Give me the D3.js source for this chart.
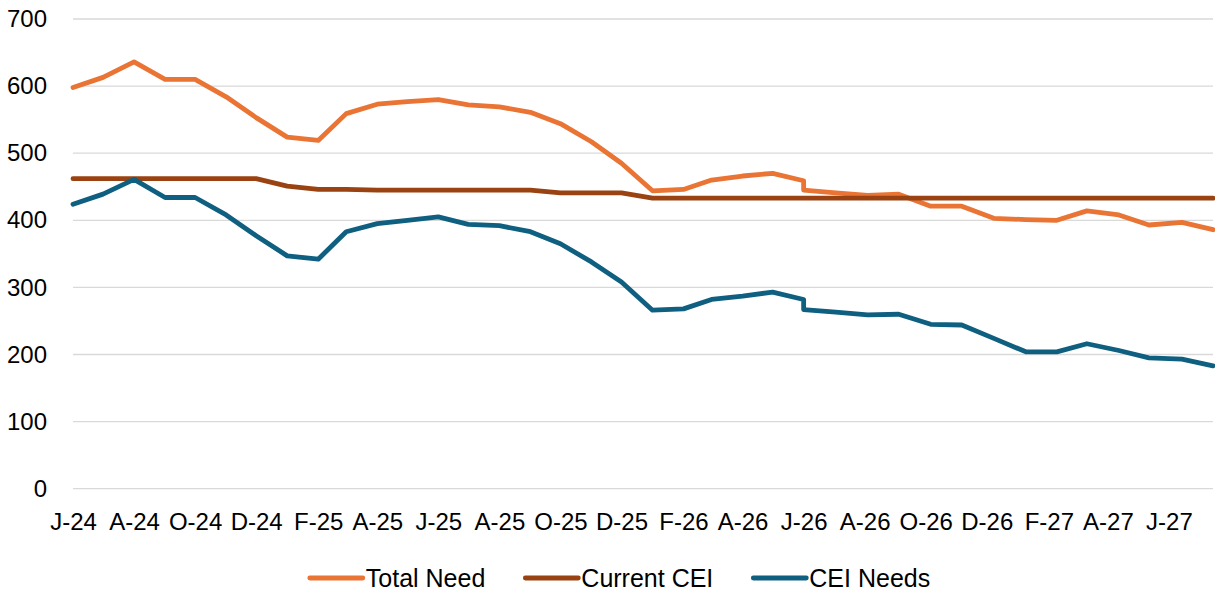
<!DOCTYPE html>
<html>
<head>
<meta charset="utf-8">
<script src="https://cdn.jsdelivr.net/npm/d3@7"></script>
<style>
  html, body { margin: 0; padding: 0; background: #fff; }
  svg text { font-family: "Liberation Sans", Arial, sans-serif; fill: #000; }
</style>
</head>
<body>
<div id="chart"></div>
<script>
// data (two points share 1 Jun 2026)
var dates = [
  "2024-06-01","2024-07-01","2024-08-01","2024-09-01","2024-10-01","2024-11-01","2024-12-01",
  "2025-01-01","2025-02-01","2025-03-01","2025-04-01","2025-05-01","2025-06-01","2025-07-01",
  "2025-08-01","2025-09-01","2025-10-01","2025-11-01","2025-12-01",
  "2026-01-01","2026-02-01","2026-03-01","2026-04-01","2026-05-01","2026-06-01","2026-06-01",
  "2026-07-03","2026-08-04","2026-09-04","2026-10-06","2026-11-06","2026-12-08",
  "2027-01-09","2027-02-09","2027-03-11","2027-04-12","2027-05-12","2027-06-14","2027-07-15"
];
var totalNeed = [598,613,636,610,610,584,553,524,519,559,573,577,580,572,569,561,544,517,485,
  444,446,460,466,470,459,445,441,437,439,421,421,403,401,400,414,408,393,397,386];
var currentCEI = [462,462,462,462,462,462,462,451,446,446,445,445,445,445,445,445,441,441,441,
  433,433,433,433,433,433,433,433,433,433,433,433,433,433,433,433,433,433,433,433];
var ceiNeeds = [424,439,461,434,434,408,377,347,342,383,395,400,405,394,392,383,365,338,308,
  266,268,282,287,293,282,267,263,259,260,245,244,224,204,204,216,206,195,193,183];

var tickDates = ["2024-06-01","2024-08-01","2024-10-01","2024-12-01","2025-02-01","2025-04-01",
  "2025-06-01","2025-08-01","2025-10-01","2025-12-01","2026-02-01","2026-04-01","2026-06-01",
  "2026-08-01","2026-10-01","2026-12-01","2027-02-01","2027-04-01","2027-06-01"];
var tickLabels = ["J-24","A-24","O-24","D-24","F-25","A-25","J-25","A-25","O-25","D-25",
  "F-26","A-26","J-26","A-26","O-26","D-26","F-27","A-27","J-27"];
var yTicks = [0,100,200,300,400,500,600,700];

var series = [
  { name: "Total Need",  values: totalNeed,  color: "#e97434" },
  { name: "Current CEI", values: currentCEI, color: "#9a4211" },
  { name: "CEI Needs",   values: ceiNeeds,   color: "#0e5f80" }
];

var w = 1215, h = 593;
var parse = d3.utcParse("%Y-%m-%d");
var font = "\"Liberation Sans\", Arial, sans-serif";

var x = d3.scaleUtc()
    .domain([parse("2024-06-01"), parse("2027-07-15")])
    .range([73, 1213]);
var y = d3.scaleLinear()
    .domain([0, 700])
    .range([488.7, 19]);

var svg = d3.select("#chart").append("svg")
    .attr("width", w)
    .attr("height", h);

// gridlines
svg.append("g").selectAll("line").data(yTicks).enter().append("line")
   .attr("x1", x.range()[0]).attr("x2", x.range()[1])
   .attr("y1", function(d) { return y(d); })
   .attr("y2", function(d) { return y(d); })
   .attr("stroke", "#d9d9d9")
   .attr("stroke-width", 1.3);

// y axis labels
var yAxis = svg.append("g")
    .attr("transform", "translate(47,0)")
    .call(d3.axisLeft(y).tickValues(yTicks).tickSize(0).tickPadding(0));
yAxis.select(".domain").remove();
yAxis.selectAll("text").style("font-size", "24px")
     .style("font-family", font).attr("fill", "#000");

// x axis labels
var xAxis = svg.append("g")
    .attr("transform", "translate(0,513)")
    .call(d3.axisBottom(x)
      .tickValues(tickDates.map(parse))
      .tickFormat(function(d, i) { return tickLabels[i]; })
      .tickSize(0).tickPadding(0));
xAxis.select(".domain").remove();
xAxis.selectAll("text").style("font-size", "24px")
     .style("font-family", font).attr("fill", "#000");

// lines
var line = d3.line()
    .x(function(d) { return x(d.date); })
    .y(function(d) { return y(d.value); });

svg.append("g").selectAll("path").data(series).enter().append("path")
   .attr("fill", "none")
   .attr("stroke", function(d) { return d.color; })
   .attr("stroke-width", 4.8)
   .attr("stroke-linejoin", "round")
   .attr("stroke-linecap", "round")
   .attr("d", function(s) {
     return line(s.values.map(function(v, i) { return { date: parse(dates[i]), value: v }; }));
   });

// legend
var legend = svg.append("g").attr("id", "legend");
var lx = 0;
series.forEach(function(s) {
  var g = legend.append("g").attr("transform", "translate(" + lx + ",0)");
  g.append("line")
   .attr("x1", 2).attr("x2", 55).attr("y1", 0).attr("y2", 0)
   .attr("stroke", s.color).attr("stroke-width", 4.8).attr("stroke-linecap", "round");
  var t = g.append("text")
   .attr("x", 58).attr("y", 9)
   .style("font-size", "25px")
   .text(s.name);
  lx += 58 + t.node().getComputedTextLength() + 38;
});
var legW = lx - 38;
legend.attr("transform", "translate(" + (619 - legW / 2) + ",578)");
</script>
</body>
</html>
